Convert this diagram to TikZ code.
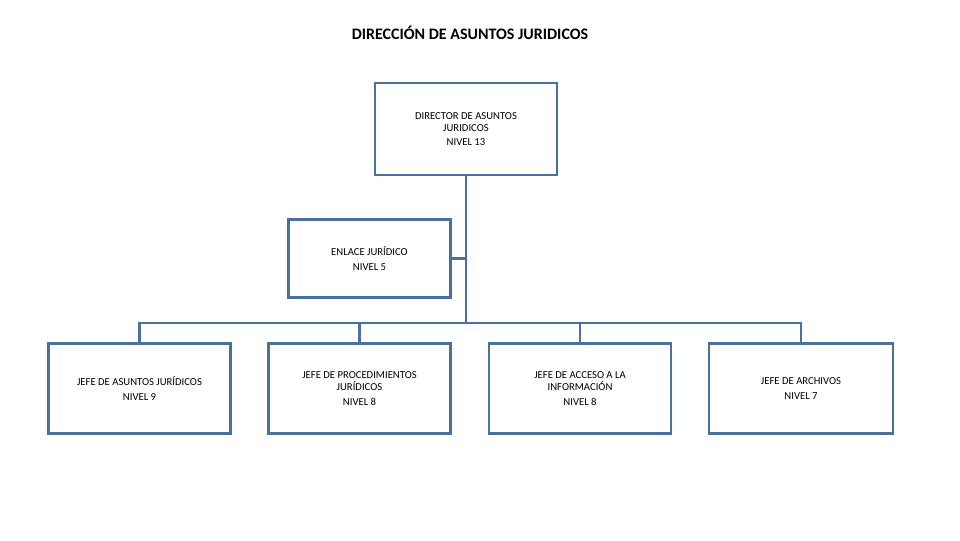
\documentclass[tikz,border=0pt]{standalone}
\usepackage{fontspec}
\setmainfont{Carlito}
\definecolor{orgblue}{RGB}{74,112,160}
\tikzset{
  puesto/.style={draw=orgblue,line width=2.2pt,fill=white,align=center,font=\fontsize{8}{9}\selectfont,inner sep=0pt},
  enlace/.style={draw=orgblue,line width=2.2pt}
}
\begin{document}
\begin{tikzpicture}[x=0.75pt,y=-0.75pt]
\useasboundingbox (0,0) rectangle (960,540);
\node[font=\bfseries\fontsize{12}{14}\selectfont] (titulo) at (470,33) {DIRECCIÓN DE ASUNTOS JURIDICOS};
\node[puesto,minimum width=136.5pt,minimum height=69pt] (dir) at (466,129) {DIRECTOR DE ASUNTOS\\JURIDICOS\\[2pt]NIVEL 13};
\node[puesto,minimum width=122pt,minimum height=58pt] (enl) at (369.5,258.5) {ENLACE JURÍDICO\\[2pt]NIVEL 5};
\node[puesto,minimum width=137pt,minimum height=68pt] (j1) at (139.5,388.5) {JEFE DE ASUNTOS JURÍDICOS\\[2pt]NIVEL 9};
\node[puesto,minimum width=137pt,minimum height=68pt] (j2) at (359.5,388.5) {JEFE DE PROCEDIMIENTOS\\JURÍDICOS\\[2pt]NIVEL 8};
\node[puesto,minimum width=136.5pt,minimum height=68pt] (j3) at (580,388.5) {JEFE DE ACCESO A LA\\INFORMACIÓN\\[2pt]NIVEL 8};
\node[puesto,minimum width=138pt,minimum height=68pt] (j4) at (801,388.5) {JEFE DE ARCHIVOS\\[2pt]NIVEL 7};
\coordinate (bus) at (466,323);
\draw[enlace] (dir.south) -- (bus);
\draw[enlace] (enl.east) -- (enl.east -| bus);
\draw[enlace] (j1.north) |- (bus) -| (j4.north);
\draw[enlace] (j2.north) -- (j2.north |- bus);
\draw[enlace] (j3.north) -- (j3.north |- bus);
\end{tikzpicture}
\end{document}
